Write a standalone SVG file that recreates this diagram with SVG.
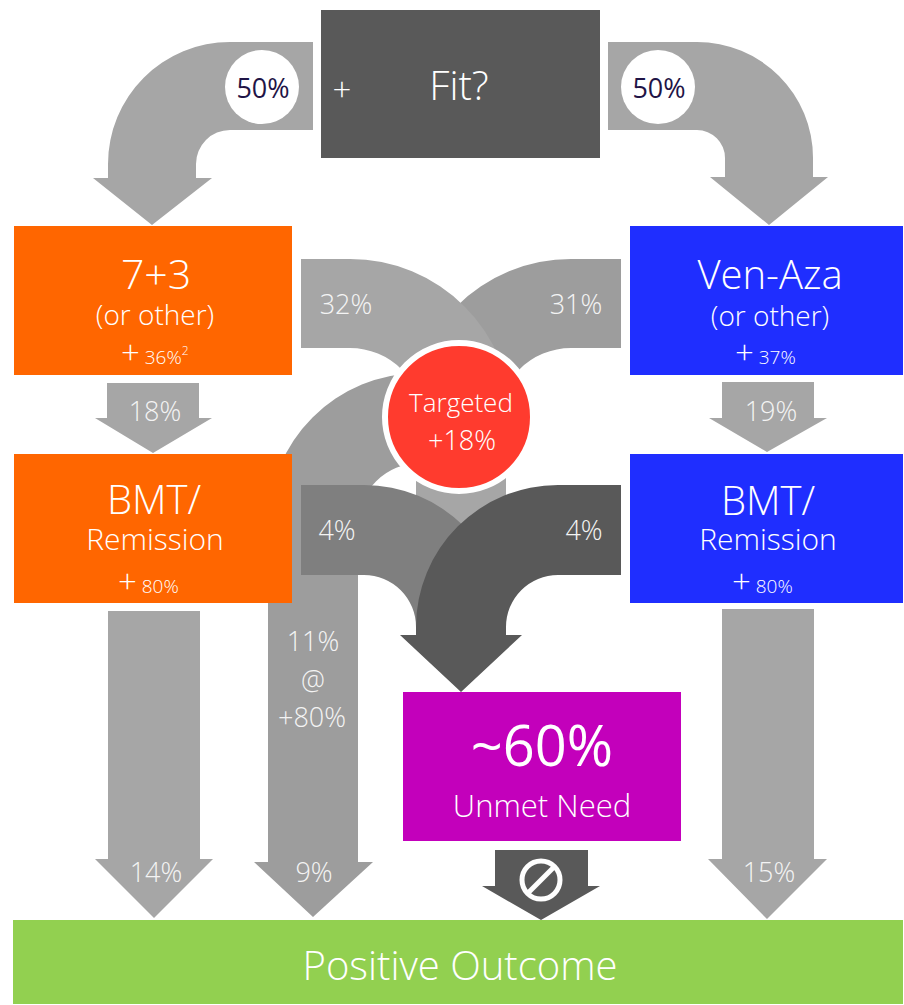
<svg xmlns="http://www.w3.org/2000/svg" width="904" height="1005" viewBox="0 0 904 1005">
<style>
text{font-family:"Open Sans","Liberation Sans",sans-serif;font-weight:300;fill:#ffffff;text-anchor:middle}
.lbl{font-size:27px;fill:#f4f4f4}
.g1{fill:#a6a6a6}
.g2{fill:#9d9d9d}
.g3{fill:#7f7f7f}
.g4{fill:#595959}
.org{fill:#ff6600}
.blu{fill:#1f2eff}
.pct{font-size:27px;fill:#1f1446;font-weight:400}
.plus{font-size:33px}
.sm{font-size:19px}
</style>
<rect width="904" height="1005" fill="#ffffff"/>
<g id="connectors">
  <path id="arrow-fit-left" class="g1" d="M313,42 L230,42 A122,122 0 0 0 108,164 L108,178 L93,178 L152,225 L212,178 L196,178 L196,164 A34,34 0 0 1 230,130 L313,130 Z"/>
  <circle cx="262" cy="87" r="37" fill="#ffffff"/>
  <text class="pct" x="263" y="98">50%</text>
  <path id="arrow-fit-right" class="g1" d="M608,42 L697,42 A116,116 0 0 1 813,158 L813,177 L828,177 L769,225 L710,177 L725,177 L725,158 A28,28 0 0 0 697,130 L608,130 Z"/>
  <circle cx="658" cy="87" r="37" fill="#ffffff"/>
  <text class="pct" x="659" y="98">50%</text>
  <path id="arrow-31" class="g2" d="M621,259 L571,259 A162,162 0 0 0 409,421 L498,421 A73,73 0 0 1 571,348 L621,348 Z"/>
  <path id="arrow-32" class="g1" d="M301,259 L350,259 A162,162 0 0 1 512,421 L423,421 A73,73 0 0 0 350,348 L301,348 Z"/>
  <text class="lbl" x="346" y="314">32%</text>
  <text class="lbl" x="576" y="314">31%</text>
  <path id="arrow-11" class="g2" d="M460,373 L420,373 A152,152 0 0 0 268,525 L268,862 L254,862 L313,917 L373,862 L358,862 L358,525 A62,62 0 0 1 420,463 L460,463 Z"/>
  <rect id="arrow-targeted" class="g1" x="416" y="440" width="90" height="200"/>
  <path id="arrow-4-left" class="g3" d="M301,485 L364,485 A142,142 0 0 1 506,627 L506,640 L416,640 L416,627 A52,52 0 0 0 364,575 L301,575 Z"/>
  <path id="arrow-4-right" class="g4" d="M621,485 L558,485 A142,142 0 0 0 416,627 L416,635 L400,635 L461,692 L522,635 L506,635 L506,627 A52,52 0 0 1 558,575 L621,575 Z"/>
  <text class="lbl" x="337" y="540">4%</text>
  <text class="lbl" x="584" y="540">4%</text>
  <text class="lbl" x="313" y="651">11%</text>
  <text class="lbl" x="313" y="690">@</text>
  <text class="lbl" x="312" y="727">+80%</text>
  <text class="lbl" x="314" y="882">9%</text>
  <path id="arrow-18" class="g1" d="M107,383 L199,383 L199,418 L212,418 L153,453 L95,418 L107,418 Z"/>
  <text class="lbl" x="155" y="421">18%</text>
  <path id="arrow-19" class="g1" d="M722,382 L814,382 L814,418 L827,418 L767,452 L709,418 L722,418 Z"/>
  <text class="lbl" x="771" y="421">19%</text>
  <path id="arrow-14" class="g1" d="M108,611 L200,611 L200,859 L213,859 L154,918 L95,859 L108,859 Z"/>
  <text class="lbl" x="156" y="882">14%</text>
  <path id="arrow-15" class="g1" d="M722,609 L814,609 L814,859 L827,859 L767,919 L708,859 L722,859 Z"/>
  <text class="lbl" x="769" y="882">15%</text>
  <path id="arrow-none" class="g4" d="M495,850 L588,850 L588,886 L600,886 L541,920 L482,886 L495,886 Z"/>
  <circle cx="541" cy="880" r="19" fill="none" stroke="#ffffff" stroke-width="5"/>
  <line x1="528" y1="893" x2="554" y2="867" stroke="#ffffff" stroke-width="5"/>
</g>
<g id="node-fit">
  <rect x="321" y="10" width="279" height="148" fill="#595959"/>
  <text class="plus" x="342" y="101">+</text>
  <text x="459" y="100" style="font-size:40px">Fit?</text>
</g>
<g id="node-targeted">
  <circle cx="459" cy="417" r="74" fill="#ff3b2e" stroke="#ffffff" stroke-width="6"/>
  <text x="461" y="412" style="font-size:26px">Targeted</text>
  <text x="462" y="450" style="font-size:27px">+18%</text>
</g>
<g id="node-73">
  <rect class="org" x="14" y="226" width="278" height="149"/>
  <text x="156" y="289" style="font-size:41px">7+3</text>
  <text x="155" y="325" style="font-size:28px">(or other)</text>
  <text x="121" y="364" style="text-anchor:start"><tspan class="plus">+</tspan><tspan class="sm"> 36%</tspan><tspan style="font-size:12px" dy="-9">2</tspan></text>
</g>
<g id="node-bmt-left">
  <rect class="org" x="14" y="454" width="278" height="149"/>
  <text x="154" y="514" style="font-size:40px">BMT/</text>
  <text x="155" y="550" style="font-size:30px">Remission</text>
  <text x="118" y="593" style="text-anchor:start"><tspan class="plus">+</tspan><tspan class="sm"> 80%</tspan></text>
</g>
<g id="node-venaza">
  <rect class="blu" x="630" y="226" width="273" height="149"/>
  <text x="770" y="289" style="font-size:40px">Ven-Aza</text>
  <text x="770" y="326" style="font-size:28px">(or other)</text>
  <text x="735" y="364" style="text-anchor:start"><tspan class="plus">+</tspan><tspan class="sm"> 37%</tspan></text>
</g>
<g id="node-bmt-right">
  <rect class="blu" x="630" y="454" width="273" height="149"/>
  <text x="768" y="515" style="font-size:40px">BMT/</text>
  <text x="768" y="550" style="font-size:30px">Remission</text>
  <text x="732" y="593" style="text-anchor:start"><tspan class="plus">+</tspan><tspan class="sm"> 80%</tspan></text>
</g>
<g id="node-unmet">
  <rect x="403" y="692" width="278" height="149" fill="#c300bb"/>
  <text x="542" y="766" style="font-size:56px;font-weight:500">~60%</text>
  <text x="542" y="817" style="font-size:31px">Unmet Need</text>
</g>
<g id="node-outcome">
  <rect x="13" y="920" width="890" height="84" fill="#92d050"/>
  <text x="460" y="980" style="font-size:40px">Positive Outcome</text>
</g>
</svg>
